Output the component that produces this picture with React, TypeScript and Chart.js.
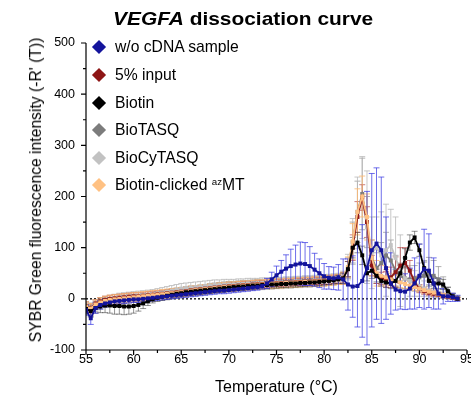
import React, { useEffect, useRef } from 'react';
import { Chart, registerables } from 'chart.js';

Chart.register(...registerables);

const FONT = 'Arial, "Liberation Sans", Helvetica, sans-serif';

const titleMain = 'VEGFA';
const titleRest = ' dissociation curve';
const xAxisTitle = 'Temperature (°C)';
const yAxisTitle = "SYBR Green fluorescence intensity (-R' (T))";

const xTickValues = [55, 60, 65, 70, 75, 80, 85, 90, 95];
const yTickValues = [-100, 0, 100, 200, 300, 400, 500];

const temperatures = [
  55, 55.5, 56, 56.5, 57, 57.5, 58, 58.5, 59, 59.5,
  60, 60.5, 61, 61.5, 62, 62.5, 63, 63.5, 64, 64.5,
  65, 65.5, 66, 66.5, 67, 67.5, 68, 68.5, 69, 69.5,
  70, 70.5, 71, 71.5, 72, 72.5, 73, 73.5, 74, 74.5,
  75, 75.5, 76, 76.5, 77, 77.5, 78, 78.5, 79, 79.5,
  80, 80.5, 81, 81.5, 82, 82.5, 83, 83.5, 84, 84.5,
  85, 85.5, 86, 86.5, 87, 87.5, 88, 88.5, 89, 89.5,
  90, 90.5, 91, 91.5, 92, 92.5, 93, 93.5, 94,
];

const seriesLabels = ['w/o cDNA sample', '5% input', 'Biotin', 'BioTASQ', 'BioCyTASQ', 'Biotin-clicked {az}MT'];
const seriesColors = ['#14149c', '#8e1616', '#000000', '#7c7c7c', '#c2c2c2', '#ffc183'];
const errorColors = ['rgba(50,50,225,0.7)', 'rgba(170,40,40,0.6)', 'rgba(40,40,40,0.5)', 'rgba(125,125,125,0.6)', 'rgba(185,185,185,0.8)', 'rgba(255,185,110,0.8)'];
const drawOrder = [1, 4, 2, 6, 5, 3];

const woCdna = [
  -22, -38, -18, -12, -9, -7, -5, -4, -3, -2,
  -1, -1, 0, 1, 2, 3, 4, 5, 6, 7,
  8, 9, 10, 11, 12, 13, 14, 15, 16, 16,
  17, 18, 19, 20, 21, 22, 23, 25, 30, 38,
  46, 53, 59, 64, 67, 69, 68, 64, 57, 50,
  44, 41, 40, 42, 38, 28, 24, 25, 35, 60,
  95, 108, 95, 60, 30, 18, 15, 14, 20, 30,
  45, 58, 55, 30, 10, 5, 5, 3, 1,
];
const woCdnaErr = [
  10, 12, 10, 8, 7, 6, 6, 6, 6, 6,
  6, 6, 6, 6, 6, 6, 6, 6, 6, 6,
  6, 6, 6, 6, 6, 6, 6, 6, 6, 6,
  6, 6, 6, 6, 6, 6, 6, 6, 10, 14,
  18, 22, 27, 33, 38, 42, 42, 38, 32, 28,
  25, 22, 22, 25, 40, 50, 60, 80, 110, 150,
  150, 148, 143, 100, 60, 40, 35, 35, 40, 50,
  62, 78, 72, 50, 30, 15, 10, 8, 6,
];

const input5 = [
  -14, -18, -9, -5, -2, 0, 1, 2, 3, 4,
  5, 5, 6, 7, 8, 9, 10, 11, 12, 13,
  14, 15, 17, 18, 19, 20, 21, 22, 23, 24,
  25, 25, 26, 27, 27, 28, 29, 29, 30, 30,
  31, 31, 32, 32, 33, 33, 34, 34, 35, 35,
  36, 37, 38, 39, 41, 58, 100, 160, 198, 150,
  65, 45, 40, 38, 42, 52, 65, 70, 55, 32,
  20, 15, 12, 10, 8, 6, 4, 2, 0,
];
const input5Err = [
  8, 8, 7, 7, 7, 7, 7, 7, 7, 7,
  7, 7, 7, 7, 7, 7, 7, 7, 7, 7,
  7, 7, 7, 7, 7, 7, 7, 7, 7, 7,
  7, 7, 7, 7, 7, 7, 7, 7, 7, 7,
  7, 7, 7, 7, 7, 7, 7, 7, 7, 7,
  8, 8, 8, 8, 10, 15, 25, 30, 25, 30,
  20, 15, 12, 15, 20, 30, 35, 30, 20, 12,
  8, 6, 5, 5, 4, 4, 3, 3, 2,
];

const biotin = [
  -20, -24, -18, -15, -13, -13, -14, -14, -15, -15,
  -14, -12, -9, -5, -1, 2, 4, 6, 8, 10,
  11, 13, 14, 15, 16, 17, 18, 19, 20, 21,
  22, 23, 24, 24, 25, 26, 26, 27, 27, 28,
  28, 29, 29, 30, 30, 31, 31, 32, 32, 33,
  34, 35, 36, 38, 40, 58, 100, 110, 85, 50,
  55, 45, 35, 32, 30, 35, 50, 80, 110, 120,
  95, 60, 35, 30, 30, 28, 15, 5, 0,
];
const biotinErr = [
  8, 10, 10, 12, 14, 15, 16, 16, 16, 15,
  14, 12, 10, 8, 7, 7, 7, 7, 7, 7,
  7, 7, 7, 7, 7, 7, 7, 7, 7, 7,
  7, 7, 7, 7, 7, 7, 7, 7, 7, 7,
  7, 7, 7, 7, 7, 7, 7, 7, 7, 7,
  7, 7, 7, 8, 10, 15, 20, 20, 18, 15,
  15, 12, 10, 10, 10, 12, 15, 18, 15, 12,
  12, 12, 10, 10, 10, 10, 8, 5, 3,
];

const bioTasq = [
  -20, -24, -15, -11, -8, -6, -4, -2, -1, 0,
  1, 1, 2, 3, 4, 5, 6, 8, 10, 11,
  12, 14, 15, 16, 17, 18, 20, 21, 22, 23,
  24, 24, 25, 26, 26, 27, 28, 28, 29, 29,
  30, 30, 31, 31, 32, 32, 33, 33, 34, 34,
  35, 36, 37, 38, 40, 60, 110, 170, 205, 150,
  80, 60, 70, 85, 75, 55, 45, 40, 38, 40,
  42, 45, 48, 45, 38, 25, 12, 5, 2,
];
const bioTasqErr = [
  10, 12, 10, 9, 9, 8, 8, 8, 8, 8,
  8, 8, 8, 8, 9, 9, 9, 10, 10, 10,
  10, 10, 10, 10, 10, 10, 10, 10, 10, 10,
  10, 10, 10, 10, 10, 10, 10, 10, 10, 10,
  10, 10, 10, 10, 10, 10, 10, 10, 10, 10,
  10, 10, 10, 10, 12, 20, 40, 60, 70, 50,
  35, 30, 40, 45, 40, 30, 25, 20, 20, 25,
  28, 30, 33, 30, 25, 18, 10, 6, 4,
];

const bioCyTasq = [
  -16, -20, -12, -8, -5, -3, -1, 1, 2, 3,
  4, 5, 6, 7, 8, 10, 12, 14, 16, 18,
  20, 21, 22, 23, 24, 25, 26, 27, 27, 28,
  28, 28, 29, 29, 30, 30, 30, 31, 31, 31,
  32, 32, 33, 33, 34, 34, 35, 35, 36, 36,
  37, 38, 39, 40, 42, 62, 112, 168, 198, 140,
  90, 100, 85, 95, 105, 80, 55, 40, 35, 30,
  25, 20, 16, 13, 10, 7, 5, 3, 1,
];
const bioCyTasqErr = [
  10, 12, 10, 10, 10, 10, 10, 10, 10, 10,
  10, 10, 10, 10, 10, 10, 10, 10, 10, 10,
  10, 10, 10, 10, 10, 10, 10, 10, 10, 10,
  10, 10, 10, 10, 10, 10, 10, 10, 10, 10,
  10, 10, 10, 10, 10, 10, 10, 10, 10, 10,
  10, 10, 10, 10, 12, 25, 45, 70, 80, 110,
  70, 60, 85, 90, 70, 80, 70, 40, 30, 25,
  20, 15, 12, 10, 8, 6, 5, 4, 3,
];

const clickedAzMT = [
  -15, -19, -11, -7, -4, -2, -1, 0, 1, 2,
  3, 4, 5, 6, 7, 8, 9, 10, 11, 12,
  13, 14, 16, 17, 18, 19, 20, 21, 22, 23,
  24, 24, 25, 26, 26, 27, 28, 28, 29, 29,
  30, 30, 31, 31, 32, 32, 33, 33, 34, 34,
  35, 36, 37, 38, 40, 62, 112, 170, 200, 160,
  80, 50, 45, 42, 38, 35, 32, 29, 26, 23,
  20, 17, 14, 12, 9, 7, 5, 3, 1,
];
const clickedAzMTErr = [
  9, 10, 9, 9, 9, 9, 9, 9, 9, 9,
  9, 9, 9, 9, 9, 9, 9, 9, 9, 9,
  9, 9, 9, 9, 9, 9, 9, 9, 9, 9,
  9, 9, 9, 9, 9, 9, 9, 9, 9, 9,
  9, 9, 9, 9, 9, 9, 9, 9, 9, 9,
  10, 10, 10, 10, 12, 20, 35, 45, 40, 45,
  35, 25, 20, 15, 12, 10, 10, 9, 8, 7,
  6, 6, 5, 5, 4, 4, 3, 3, 2,
];

const seriesValues = [woCdna, input5, biotin, bioTasq, bioCyTasq, clickedAzMT];
const seriesErrors = [woCdnaErr, input5Err, biotinErr, bioTasqErr, bioCyTasqErr, clickedAzMTErr];

const errorBarsPlugin = {
  id: 'errorBarsAndZero',
  beforeDatasetsDraw(chart: any) {
    const { ctx, chartArea, scales } = chart;
    const xs = scales.x;
    const ys = scales.y;
    ctx.save();
    ctx.beginPath();
    ctx.rect(chartArea.left, chartArea.top - 2, chartArea.right - chartArea.left + 2, chartArea.bottom - chartArea.top + 2);
    ctx.clip();
    const y0 = ys.getPixelForValue(0);
    ctx.strokeStyle = '#000';
    ctx.lineWidth = 1.3;
    ctx.setLineDash([2, 2]);
    ctx.beginPath();
    ctx.moveTo(chartArea.left, y0);
    ctx.lineTo(chartArea.right, y0);
    ctx.stroke();
    ctx.setLineDash([]);
    const idx = seriesValues.map((_, i) => i).sort((a, b) => drawOrder[b] - drawOrder[a]);
    for (const s of idx) {
      const vals = seriesValues[s];
      const errs = seriesErrors[s];
      ctx.strokeStyle = errorColors[s];
      ctx.lineWidth = 1;
      ctx.beginPath();
      for (let i = 0; i < temperatures.length; i++) {
        const px = xs.getPixelForValue(temperatures[i]);
        const pt = ys.getPixelForValue(vals[i] + errs[i]);
        const pb = ys.getPixelForValue(vals[i] - errs[i]);
        ctx.moveTo(px, pt);
        ctx.lineTo(px, pb);
        ctx.moveTo(px - 3, pt);
        ctx.lineTo(px + 3, pt);
        ctx.moveTo(px - 3, pb);
        ctx.lineTo(px + 3, pb);
      }
      ctx.stroke();
    }
    ctx.restore();
  },
  afterDraw(chart: any) {
    const { ctx, chartArea, scales } = chart;
    const xs = scales.x;
    const ys = scales.y;
    const { left, right, top, bottom } = chartArea;
    ctx.save();
    ctx.strokeStyle = '#000';
    ctx.lineWidth = 1.2;
    ctx.beginPath();
    ctx.moveTo(left, top);
    ctx.lineTo(left, bottom);
    ctx.lineTo(right, bottom);
    for (let i = 0; i < xTickValues.length; i++) {
      const px = xs.getPixelForValue(xTickValues[i]);
      ctx.moveTo(px, bottom);
      ctx.lineTo(px, bottom + 5);
      if (i < xTickValues.length - 1) {
        const pm = xs.getPixelForValue((xTickValues[i] + xTickValues[i + 1]) / 2);
        ctx.moveTo(pm, bottom);
        ctx.lineTo(pm, bottom + 3);
      }
    }
    for (let i = 0; i < yTickValues.length; i++) {
      const py = ys.getPixelForValue(yTickValues[i]);
      ctx.moveTo(left, py);
      ctx.lineTo(left - 5, py);
      if (i < yTickValues.length - 1) {
        const pm = ys.getPixelForValue((yTickValues[i] + yTickValues[i + 1]) / 2);
        ctx.moveTo(left, pm);
        ctx.lineTo(left - 3, pm);
      }
    }
    ctx.stroke();
    ctx.restore();
  },
};

function renderLabel(label: string) {
  const m = label.match(/^(.*)\{(.*)\}(.*)$/);
  if (!m) return label;
  return (
    <>
      {m[1]}
      <sup style={{ fontSize: '0.62em', verticalAlign: '0.55em', lineHeight: 0 }}>{m[2]}</sup>
      {m[3]}
    </>
  );
}

export default function App() {
  const ref = useRef<HTMLCanvasElement>(null);

  useEffect(() => {
    Chart.defaults.font.family = FONT;
    Chart.defaults.color = '#000';
    const datasets = seriesLabels.map((label, s) => ({
      label: label.replace(/[{}]/g, ''),
      data: temperatures.map((t, i) => ({ x: t, y: seriesValues[s][i] })),
      borderColor: seriesColors[s],
      backgroundColor: seriesColors[s],
      pointBackgroundColor: seriesColors[s],
      pointBorderColor: seriesColors[s],
      pointStyle: 'rect',
      pointRadius: 2.8,
      pointBorderWidth: 0,
      borderWidth: 1.8,
      tension: 0,
      order: drawOrder[s],
    }));
    const chart = new Chart(ref.current as HTMLCanvasElement, {
      type: 'line',
      data: { datasets },
      options: {
        animation: false,
        responsive: false,
        maintainAspectRatio: false,
        layout: { padding: { top: 43, right: 23, bottom: 0, left: 0 } },
        plugins: {
          legend: { display: false },
          title: { display: false },
          tooltip: { enabled: false },
        },
        scales: {
          x: {
            type: 'linear',
            min: 55,
            max: 95,
            afterFit: (s: any) => { s.height = 51; },
            afterBuildTicks: (s: any) => { s.ticks = xTickValues.map((v) => ({ value: v })); },
            ticks: { padding: 2, color: '#000', font: { size: 12.5 }, maxRotation: 0, autoSkip: false },
            grid: { display: false, drawTicks: false },
            border: { display: false },
            title: { display: true, text: xAxisTitle, color: '#000', font: { size: 16 }, padding: { top: 0, bottom: 4 } },
          },
          y: {
            type: 'linear',
            min: -100,
            max: 500,
            afterFit: (s: any) => { s.width = 86; },
            afterBuildTicks: (s: any) => { s.ticks = yTickValues.map((v) => ({ value: v })); },
            ticks: { padding: 11, color: '#000', font: { size: 12.5 }, autoSkip: false },
            grid: { display: false, drawTicks: false },
            border: { display: false },
            title: { display: false },
          },
        },
      },
      plugins: [errorBarsPlugin],
    } as any);
    return () => chart.destroy();
  }, []);

  const legendTop = 47.3;
  const legendStep = 27.6;

  return (
    <div style={{ position: 'fixed', left: 0, top: 0, width: 471, height: 401, overflow: 'hidden', background: '#fff', fontFamily: FONT }}>
      <canvas ref={ref} width={490} height={401} style={{ position: 'absolute', left: 0, top: 0, width: 490, height: 401 }} />
      <div style={{ position: 'absolute', left: 113, top: 9, fontSize: 19, lineHeight: '20px', fontWeight: 'bold', whiteSpace: 'nowrap', color: '#000', transform: 'scaleX(1.1)', transformOrigin: 'left center' }}>
        <i>{titleMain}</i>{titleRest}
      </div>
      <div style={{ position: 'absolute', left: 36, top: 190, fontSize: 15.7, lineHeight: '18px', whiteSpace: 'nowrap', color: '#000', transform: 'translate(-50%, -50%) rotate(-90deg)' }}>
        {yAxisTitle}
      </div>
      {seriesLabels.map((label, s) => {
        const cy = legendTop + s * legendStep;
        return (
          <React.Fragment key={label}>
            <div style={{ position: 'absolute', left: 98.5 - 5, top: cy - 5, width: 10, height: 10, background: seriesColors[s], transform: 'rotate(45deg)' }} />
            <div style={{ position: 'absolute', left: 115, top: cy - 10, height: 20, lineHeight: '20px', fontSize: 15.7, whiteSpace: 'nowrap', color: '#000' }}>
              {renderLabel(label)}
            </div>
          </React.Fragment>
        );
      })}
    </div>
  );
}
